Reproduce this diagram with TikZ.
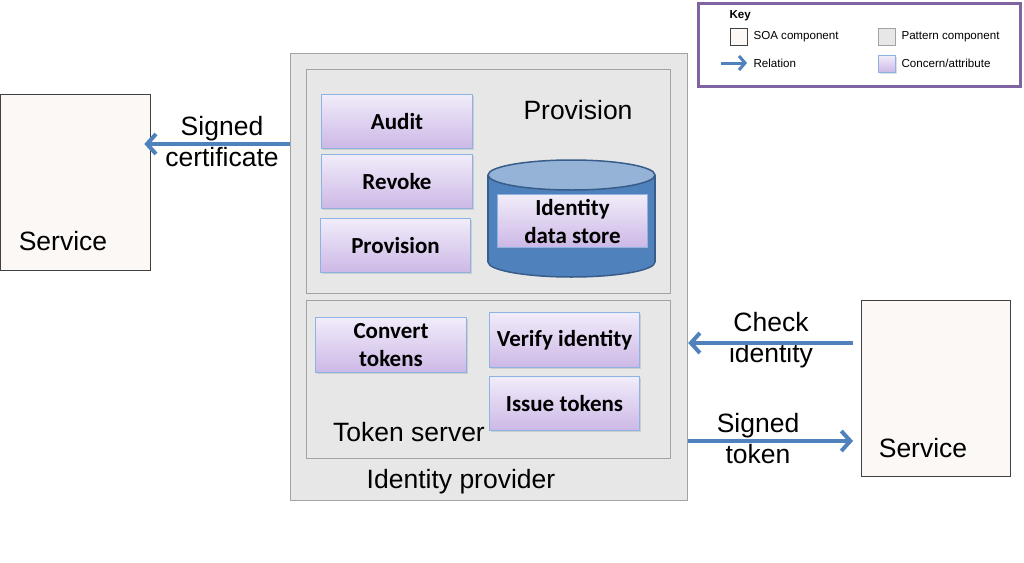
\documentclass[tikz,border=0pt]{standalone}
\usepackage{fontspec}
\setmainfont{Liberation Sans}
\newfontfamily\calibri{Carlito}
\usetikzlibrary{arrows.meta,shadows}
\definecolor{soafill}{HTML}{FCF8F5}
\definecolor{soaline}{HTML}{404040}
\definecolor{patfill}{HTML}{E7E7E7}
\definecolor{patline}{HTML}{A3A3A3}
\definecolor{contop}{HTML}{F1ECFA}
\definecolor{conbot}{HTML}{CCB8E6}
\definecolor{conline}{HTML}{8DB3E2}
\definecolor{relblue}{HTML}{4F81BD}
\definecolor{storetop}{HTML}{95B3D7}
\definecolor{storeline}{HTML}{385D8A}
\definecolor{keypurple}{HTML}{8064A2}

\begin{document}
\begin{tikzpicture}[x=1pt,y=-1pt,line width=1pt,
  soa/.style={draw=soaline,fill=soafill,line width=1.3pt,anchor=north west,inner sep=0pt},
  patbox/.style={draw=patline,fill=patfill,line width=1.2pt,anchor=north west,inner sep=0pt},
  concern/.style={draw=conline,line width=1pt,top color=contop,bottom color=conbot,
    anchor=north west,inner sep=0pt,align=center,minimum width=151pt,minimum height=54pt,
    font=\calibri\bfseries\fontsize{23}{28}\selectfont,
    drop shadow={opacity=.25,shadow xshift=1.5pt,shadow yshift=-1.5pt}},
  lbl/.style={inner sep=0pt,align=center,font=\fontsize{26.5}{31}\selectfont},
  relation/.style={relblue,line width=4pt,-{Straight Barb[length=9pt,width=20pt]}},
  keytext/.style={anchor=west,inner sep=0pt,font=\fontsize{11.6}{14}\selectfont}]
\path[use as bounding box] (0,0) rectangle (1024,562);
% services
\node[soa,minimum width=150pt,minimum height=176pt] (svcL) at (0,94) {};
\node[lbl] (svcLtxt) at (63,241) {Service};
\node[soa,minimum width=149pt,minimum height=176pt] (svcR) at (861,300) {};
\node[lbl] (svcRtxt) at (923,448) {Service};
% identity provider
\node[patbox,minimum width=397pt,minimum height=447pt] (idp) at (290,53) {};
\node[lbl] (idptxt) at (461,482) {Identity provider};
\node[patbox,minimum width=364pt,minimum height=224pt] (prov) at (306,69) {};
\node[lbl] (provtxt) at (578,110) {Provision};
\node[patbox,minimum width=364pt,minimum height=158pt] (tok) at (306,300) {};
\node[lbl] (toktxt) at (409,432) {Token server};
% provision concerns
\node[concern] (audit) at (321,94) {Audit};
\node[concern] (revoke) at (321,154) {Revoke};
\node[concern,minimum width=150pt] (provc) at (320,218) {Provision};
% data store
\filldraw[fill=relblue,draw=storeline,line width=1.5pt] (571.5,262) ellipse (83.5 and 15);
\fill[relblue] (488,175) rectangle (655,262);
\draw[storeline,line width=1.5pt] (488,175) -- (488,262) (655,175) -- (655,262);
\filldraw[fill=storetop,draw=storeline,line width=1.5pt] (571.5,175) ellipse (83.5 and 15);
\node[concern,minimum width=150pt,minimum height=53pt] (store) at (497,194) {Identity\\data store};
% token server concerns
\node[concern,minimum height=55pt] (conv) at (315,317) {Convert\\tokens};
\node[concern,minimum width=150pt,minimum height=55pt] (verify) at (489,312) {Verify identity};
\node[concern,minimum width=150pt] (issue) at (489,376) {Issue tokens};
% relations
\node[lbl] (cert) at (222,142) {Signed\\certificate};
\node[lbl] (chk) at (771,340) {Check\\identity};
\node[lbl] (stok) at (758,439) {Signed\\token};
\draw[relation] (idp.west |- 0,144) -- ([xshift=-7pt]svcL.east |- 0,144);
\draw[relation] ([xshift=-8pt]svcR.west |- 0,343) -- (idp.east |- 0,343);
\draw[relation] (idp.east |- 0,441) -- ([xshift=-8pt]svcR.west |- 0,441);
% key
\node[draw=keypurple,line width=2.5pt,fill=white,anchor=north west,inner sep=0pt,
  minimum width=322pt,minimum height=83pt] (key) at (697,2) {};
\node[keytext,font=\bfseries\fontsize{11.6}{14}\selectfont] (keytxt) at (729,16) {Key};
\node[soa,line width=1pt,minimum size=17pt] (ksoa) at (730,28) {};
\node[keytext] (ksoatxt) at (753,36.5) {SOA component};
\node[patbox,line width=1pt,minimum size=17pt] (kpat) at (878,28) {};
\node[keytext] (kpattxt) at (901,36.5) {Pattern component};
\coordinate (krel) at (721,63);
\draw[relation,line width=3pt,-{Straight Barb[length=6pt,width=14pt]}] (krel) -- ++(26,0);
\node[keytext] (kreltxt) at (753,63) {Relation};
\node[concern,minimum size=17pt,minimum width=17pt,minimum height=17pt] (kcon) at (878,55) {};
\node[keytext] (kcontxt) at (901,63) {Concern/attribute};
\end{tikzpicture}
\end{document}
